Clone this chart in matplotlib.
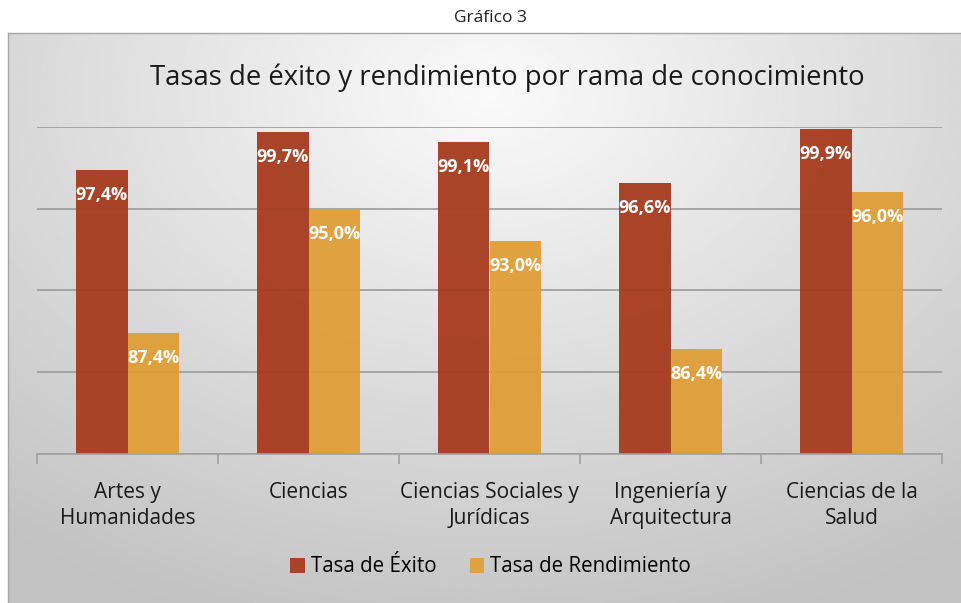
import numpy as np
import matplotlib.pyplot as plt

categories = ["Artes y\nHumanidades", "Ciencias", "Ciencias Sociales y\nJurídicas",
              "Ingeniería y\nArquitectura", "Ciencias de la\nSalud"]
tasa_exito = [97.4, 99.7, 99.1, 96.6, 99.9]
tasa_rendimiento = [87.4, 95.0, 93.0, 86.4, 96.0]
series_names = ["Tasa de Éxito", "Tasa de Rendimiento"]

plt.rcParams['font.family'] = ['Open Sans', 'DejaVu Sans']

fig = plt.figure(figsize=(9.62, 6.03), dpi=100)
fig.patch.set_facecolor('white')

# background box with radial gradient
bg = fig.add_axes([8 / 962, 0.0, 1.0, 1 - 33 / 603])
yy, xx = np.mgrid[0:1:300j, 0:1:600j]
r = np.sqrt(((xx - 0.5) / 0.75) ** 2 + ((yy - 0.1) / 0.9) ** 2)
val = 0.98 - 0.2 * np.clip(r, 0, 1.1)
bg.imshow(val, cmap='gray', vmin=0, vmax=1, aspect='auto', extent=[0, 1, 1, 0])
bg.set_xticks([])
bg.set_yticks([])
for s in bg.spines.values():
    s.set_color('#a6a6a6')
    s.set_linewidth(1)
bg.spines['right'].set_visible(False)
bg.spines['bottom'].set_visible(False)

fig.text(0.51, 1 - 18 / 603, "Gráfico 3", ha='center', va='center', fontsize=12.5, color='#222222')

ax = fig.add_axes([37 / 962, 1 - 454 / 603, (942 - 37) / 962, (454 - 127) / 603])
ax.patch.set_alpha(0)
x = np.arange(len(categories))
w = 0.285
c1, c2 = '#a83e22', '#e09f3b'
b1 = ax.bar(x - w / 2, tasa_exito, w, color=c1, alpha=0.97, label=series_names[0], zorder=3)
b2 = ax.bar(x + w / 2, tasa_rendimiento, w, color=c2, alpha=0.97, label=series_names[1], zorder=3)
ax.set_ylim(80, 100)
ax.set_xlim(-0.5, len(categories) - 0.5)
ax.set_yticks([80, 85, 90, 95, 100])
ax.yaxis.grid(True, color='#9a9a9a', linewidth=1.2, zorder=0)
ax.tick_params(axis='y', left=False, labelleft=False)
for s in ['left', 'right', 'top']:
    ax.spines[s].set_visible(False)
ax.spines['bottom'].set_color('#a0a0a0')
ax.spines['bottom'].set_linewidth(1.2)
ax.spines['bottom'].set_zorder(4)
ax.set_xticks(x)
ax.set_xticklabels(categories, fontsize=15, color='#1a1a1a', linespacing=1.35)
ax.tick_params(axis='x', which='major', length=0, pad=20)
ax.set_xticks(np.arange(-0.5, len(categories)), minor=True)
ax.tick_params(axis='x', which='minor', length=7, color='#a0a0a0', width=1.2)

for bars, vals in [(b1, tasa_exito), (b2, tasa_rendimiento)]:
    for b, v in zip(bars, vals):
        ax.annotate(f"{v:.1f}%".replace('.', ','), (b.get_x() + b.get_width() / 2, v),
                    xytext=(0, -18), textcoords='offset points', ha='center', va='center',
                    color='white', fontsize=13, fontweight='bold', zorder=5)

fig.text(0.527, 1 - 78 / 603, "Tasas de éxito y rendimiento por rama de conocimiento",
         ha='center', va='center', fontsize=19.8, color='#1a1a1a')

fig.legend(handles=[b1, b2], labels=series_names, loc='center', bbox_to_anchor=(0.51, 1 - 567 / 603),
           ncol=2, frameon=False, fontsize=14.8, handlelength=0.7, handleheight=0.7,
           handletextpad=0.3, columnspacing=1.6)

fig.savefig('out.png', dpi=100)
